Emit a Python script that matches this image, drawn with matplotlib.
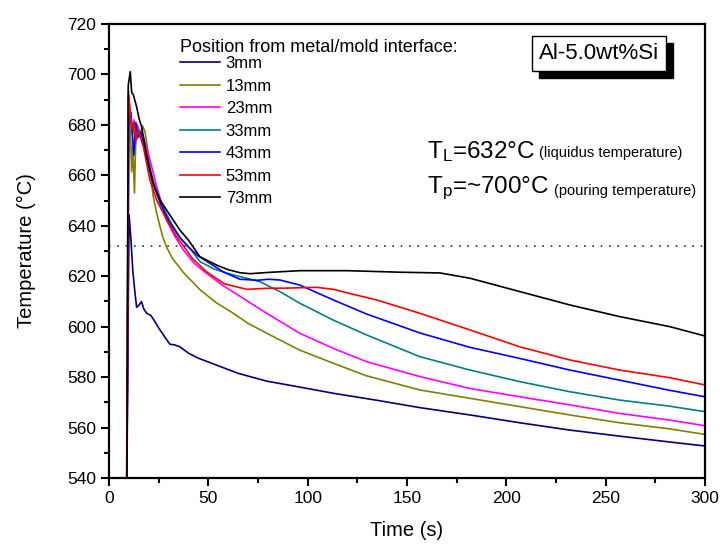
import matplotlib
matplotlib.use("Agg")
import matplotlib.pyplot as plt
from matplotlib.ticker import MultipleLocator
from matplotlib.patches import Rectangle
from matplotlib.transforms import IdentityTransform

plt.rcParams['font.family'] = ['Liberation Sans', 'DejaVu Sans']
plt.rcParams['mathtext.fontset'] = 'custom'
plt.rcParams['mathtext.rm'] = 'Liberation Sans'
plt.rcParams['mathtext.it'] = 'Liberation Sans:italic'

# ---------------- data ----------------
labels = ["3mm", "13mm", "23mm", "33mm", "43mm", "53mm", "73mm"]
colors = ["#000080", "#808000", "#FF00FF", "#008080", "#0000FF", "#FF0000", "#000000"]

t_3 = [8.8, 9.6, 10.1, 11.0, 12.0, 13.1, 13.9, 15.0, 16.4, 17.5, 19.0, 21.0, 22.8, 25.0,
       28.0, 30.7, 33.0, 35.7, 40, 45, 54, 65, 79.4, 95, 112.9, 135, 156.5, 181.7, 206.8,
       232, 257, 282, 300]
T_3 = [530, 600, 644.3, 635, 622, 613.2, 607.7, 608.5, 609.9, 607, 605.3, 604.5, 602.4, 599.5,
       596, 593, 592.8, 592, 589.5, 587.5, 584.8, 581.5, 578.4, 576.2, 573.6, 570.8, 567.9,
       565, 561.9, 559, 556.6, 554.3, 552.7]

t_13 = [8.8, 9.7, 10.6, 11.4, 12.0, 12.8, 13.6, 15.3, 16.9, 18.1, 19.5, 21, 22.3, 24, 25.7,
        27, 29, 32, 37.4, 46, 54, 62.6, 70, 79.4, 96, 112.9, 129.7, 156.5, 181.7, 206.8,
        232, 257, 282, 300]
T_13 = [530, 693.8, 683, 661.4, 672, 653, 678, 675.3, 679.6, 677.3, 670, 660, 651.5, 645,
        639.6, 635.7, 631.5, 627, 621.5, 614.5, 609.5, 605.3, 601.3, 597.4, 590.7, 585.5,
        580.5, 574.9, 571.6, 568.3, 565, 561.9, 559.5, 557.3]

t_23 = [8.9, 9.8, 10.6, 11.5, 12.5, 13.3, 14.2, 15.5, 17.0, 19.8, 24, 29, 33, 37.4, 43, 49,
        57, 66, 79.4, 96, 112.9, 129.7, 156.5, 181.7, 206.8, 232, 257, 282, 300]
T_23 = [530, 691, 686, 678, 682, 672, 680, 677, 676, 668.7, 655.5, 642.3, 636, 630.4, 625,
        621.2, 616.5, 612, 605.3, 597.4, 591.4, 586.1, 580.2, 575.5, 572.2, 569, 565.6,
        563, 560.7]

t_33 = [8.9, 9.9, 10.8, 11.8, 12.8, 13.8, 15.0, 17.0, 20.0, 22.5, 25.7, 29, 32.4, 36, 40.8,
        45.8, 53, 62.6, 69.3, 76, 86, 96, 112.9, 129.7, 156.5, 181.7, 206.8, 232, 257, 282,
        300]
T_33 = [530, 689, 683, 676, 680, 674, 678, 674, 665, 657, 650.2, 644.5, 639.6, 635, 631,
        625.8, 622.8, 620.5, 619.2, 617.8, 613.9, 609.3, 602.6, 596.7, 588.1, 582.8, 578.2,
        574.2, 570.9, 568.5, 566.3]

t_43 = [9.0, 10.0, 11.0, 11.8, 12.5, 13.5, 14.5, 16.0, 18.0, 20.5, 23, 26, 30, 35, 40,
        45, 50.8, 58, 65.9, 75, 80, 86, 96, 112.9, 129.7, 156.5, 181.7, 206.8, 232, 257,
        282, 300]
T_43 = [530, 683, 685, 676, 668, 681, 675, 677, 670, 662, 655, 648.5, 642, 636, 631.5,
        628, 625.1, 621.5, 618.8, 618.4, 618.8, 618.5, 616.5, 610.6, 605.0, 597.5, 591.8,
        587.4, 582.8, 578.8, 574.8, 572.2]

t_53 = [9.0, 9.9, 10.8, 11.7, 12.6, 13.5, 14.5, 15.5, 17.3, 20.6, 24, 29, 34, 36.6, 42,
        49, 58, 69.3, 79, 90, 104.5, 113, 121, 134.7, 156.5, 181.7, 206.8, 232, 257, 282, 300]
T_53 = [530, 692, 684, 678, 681, 674, 678, 676, 671.3, 658.1, 650.2, 642.3, 635.7, 633,
        627, 621.8, 617, 614.8, 615.2, 615.3, 615.6, 614.8, 613.2, 610.6, 605.3, 598.7, 592,
        586.8, 582.8, 579.8, 576.9]

t_73 = [9.0, 9.7, 10.7, 11.4, 12.2, 13.9, 15.1, 16.4, 18, 20, 22.5, 25.7, 29, 35.7, 40,
        45.8, 54.2, 60, 65.9, 71, 80, 96, 120, 146, 166.6, 181.7, 206.8, 232, 257, 282.3, 300]
T_73 = [530, 695.8, 701.1, 692.9, 692, 687.2, 682.6, 679.3, 672, 664, 656, 650.2, 646.2,
        638.3, 634.3, 627.7, 624.4, 622.6, 621.4, 621, 621.5, 622.2, 622.2, 621.6, 621.3,
        619.2, 613.9, 608.6, 604, 600, 596.3]

series_t = [t_3, t_13, t_23, t_33, t_43, t_53, t_73]
series_T = [T_3, T_13, T_23, T_33, T_43, T_53, T_73]

T_liquidus = 632

# ---------------- figure ----------------
fig = plt.figure(figsize=(7.2, 5.45), dpi=100)
ax = fig.add_axes([0.1514, 0.1229, 0.8278, 0.8331])

for t, T, c, lab in zip(series_t, series_T, colors, labels):
    ax.plot(t, T, color=c, lw=1.2, label=lab)

ax.axhline(T_liquidus, color="#333333", lw=1.2, linestyle=(0, (1, 4)))

ax.set_xlim(0, 300)
ax.set_ylim(540, 720)
ax.xaxis.set_major_locator(MultipleLocator(50))
ax.xaxis.set_minor_locator(MultipleLocator(25))
ax.yaxis.set_major_locator(MultipleLocator(20))
ax.yaxis.set_minor_locator(MultipleLocator(10))
ax.tick_params(which="both", direction="out", width=1.5, top=False, right=False,
               labelsize=12.5, colors="black")
ax.tick_params(which="major", length=6)
ax.tick_params(which="minor", length=3.5)
for s in ax.spines.values():
    s.set_linewidth(1.6)

ax.set_xlabel("Time (s)", fontsize=14.5, labelpad=11)
ax.set_ylabel("Temperature (°C)", fontsize=14.5, labelpad=22)

leg = ax.legend(loc="upper left", bbox_to_anchor=(0.105, 0.985), frameon=False,
                fontsize=12, title="Position from metal/mold interface:",
                title_fontsize=13, handlelength=2.4, handletextpad=0.35,
                labelspacing=0.45, borderpad=0.0, alignment="left")
leg._legend_box.sep = 0

# sample label box with drop shadow
box = ax.text(0.822, 0.935, "Al-5.0wt%Si", transform=ax.transAxes, fontsize=16,
              ha="center", va="center", color="black", zorder=6,
              bbox=dict(boxstyle="square,pad=0.33", fc="white", ec="black", lw=1))

t1 = ax.text(0.534, 0.705, r"T$_\mathregular{L}$=632°C", transform=ax.transAxes,
             fontsize=17.5, ha="left", va="baseline")
ax.annotate("(liquidus temperature)", xy=(1, 0), xycoords=t1, xytext=(3, 3),
            textcoords="offset points", fontsize=10.5, ha="left", va="bottom")
t2 = ax.text(0.534, 0.628, r"T$_\mathregular{p}$=~700°C", transform=ax.transAxes,
             fontsize=17.5, ha="left", va="baseline")
ax.annotate("(pouring temperature)", xy=(1, 0), xycoords=t2, xytext=(3, 3),
            textcoords="offset points", fontsize=10.5, ha="left", va="bottom")

fig.canvas.draw()
bb = box.get_bbox_patch().get_window_extent()
shadow = Rectangle((bb.x0 + 7, bb.y0 - 7), bb.width, bb.height,
                   transform=IdentityTransform(),
                   facecolor="black", edgecolor="black", zorder=5)
ax.add_artist(shadow)

fig.savefig("out.png", dpi=100)
